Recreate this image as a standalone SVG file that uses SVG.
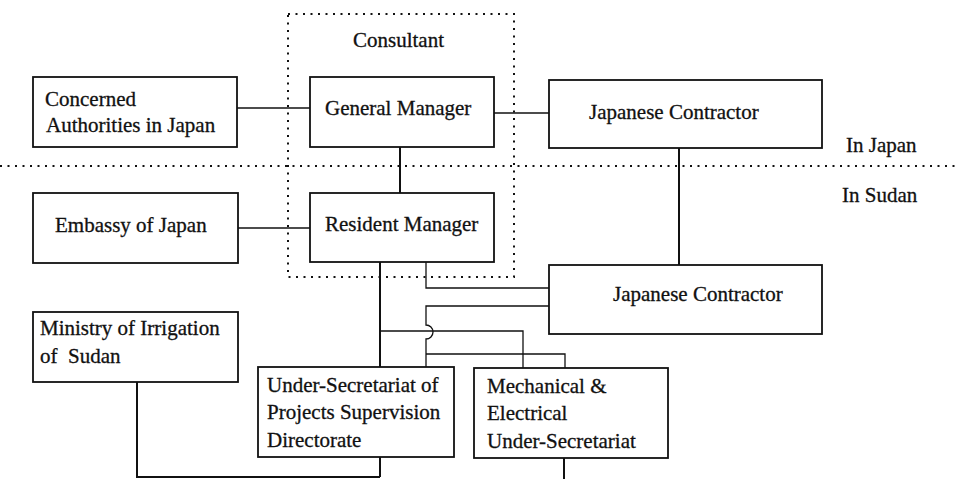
<svg xmlns="http://www.w3.org/2000/svg" width="955" height="479" viewBox="0 0 955 479">
  <style>
    text { font-family: "Liberation Serif", "Times New Roman", serif; font-size: 21px; fill: #111; stroke: #111; stroke-width: 0.3; white-space: pre; }
    .box { fill: #fff; stroke: #111; stroke-width: 1.8; }
    .dot { fill: none; stroke: #111; stroke-width: 2; stroke-dasharray: 2 5.5; }
    .link { fill: none; stroke: #111; stroke-width: 1.3; }
    .trunk { fill: none; stroke: #111; stroke-width: 2; }
  </style>
  <rect width="955" height="479" fill="#fff"/>

  <!-- region separators and consultant grouping -->
  <g id="boundaries">
    <line class="dot" x1="0" y1="166" x2="955" y2="166"/>
    <rect class="dot" x="288" y="14" width="226" height="263"/>
    <text x="353" y="47">Consultant</text>
    <text x="846" y="152">In Japan</text>
    <text x="842" y="202">In Sudan</text>
  </g>

  <!-- connectors -->
  <g id="connectors">
    <line class="link" x1="237" y1="108" x2="310" y2="108"/>
    <line class="link" x1="494" y1="113" x2="549" y2="113"/>
    <line class="trunk" x1="400" y1="147" x2="400" y2="193"/>
    <line class="trunk" x1="679" y1="148" x2="679" y2="265"/>
    <line class="link" x1="238" y1="228" x2="310" y2="228"/>
    <line class="trunk" x1="380" y1="262" x2="380" y2="367"/>
    <path class="link" d="M426,262 V288 H549"/>
    <path class="link" d="M549,306 H426 V325 A7,7 0 0 1 426,339 V367"/>
    <path class="link" d="M380,331 H523 V368"/>
    <path class="link" d="M426,354 H565 V368"/>
    <path class="trunk" d="M137,382 V477 H380"/>
    <line class="trunk" x1="380" y1="457" x2="380" y2="477"/>
    <line class="trunk" x1="564" y1="458" x2="564" y2="479"/>
  </g>

  <g id="concerned-authorities">
    <rect class="box" x="33" y="77" width="204" height="70"/>
    <text x="45" y="106">Concerned</text>
    <text x="46" y="132">Authorities in Japan</text>
  </g>

  <g id="general-manager">
    <rect class="box" x="310" y="77" width="184" height="70"/>
    <text x="325" y="115">General Manager</text>
  </g>

  <g id="japanese-contractor-japan">
    <rect class="box" x="549" y="80" width="273" height="68"/>
    <text x="589" y="119">Japanese Contractor</text>
  </g>

  <g id="embassy-of-japan">
    <rect class="box" x="33" y="193" width="205" height="70"/>
    <text x="55" y="232">Embassy of Japan</text>
  </g>

  <g id="resident-manager">
    <rect class="box" x="310" y="193" width="184" height="69"/>
    <text x="325" y="231">Resident Manager</text>
  </g>

  <g id="japanese-contractor-sudan">
    <rect class="box" x="549" y="265" width="273" height="69"/>
    <text x="613" y="301">Japanese Contractor</text>
  </g>

  <g id="ministry-of-irrigation">
    <rect class="box" x="33" y="312" width="205" height="70"/>
    <text x="40" y="335">Ministry of Irrigation</text>
    <text x="40" y="363">of  Sudan</text>
  </g>

  <g id="projects-supervision">
    <rect class="box" x="258" y="367" width="196" height="90"/>
    <text x="267" y="392">Under-Secretariat of</text>
    <text x="267" y="419">Projects Supervision</text>
    <text x="267" y="447">Directorate</text>
  </g>

  <g id="mechanical-electrical">
    <rect class="box" x="474" y="368" width="194" height="90"/>
    <text x="487" y="393">Mechanical &amp;</text>
    <text x="487" y="420">Electrical</text>
    <text x="487" y="448">Under-Secretariat</text>
  </g>
</svg>
